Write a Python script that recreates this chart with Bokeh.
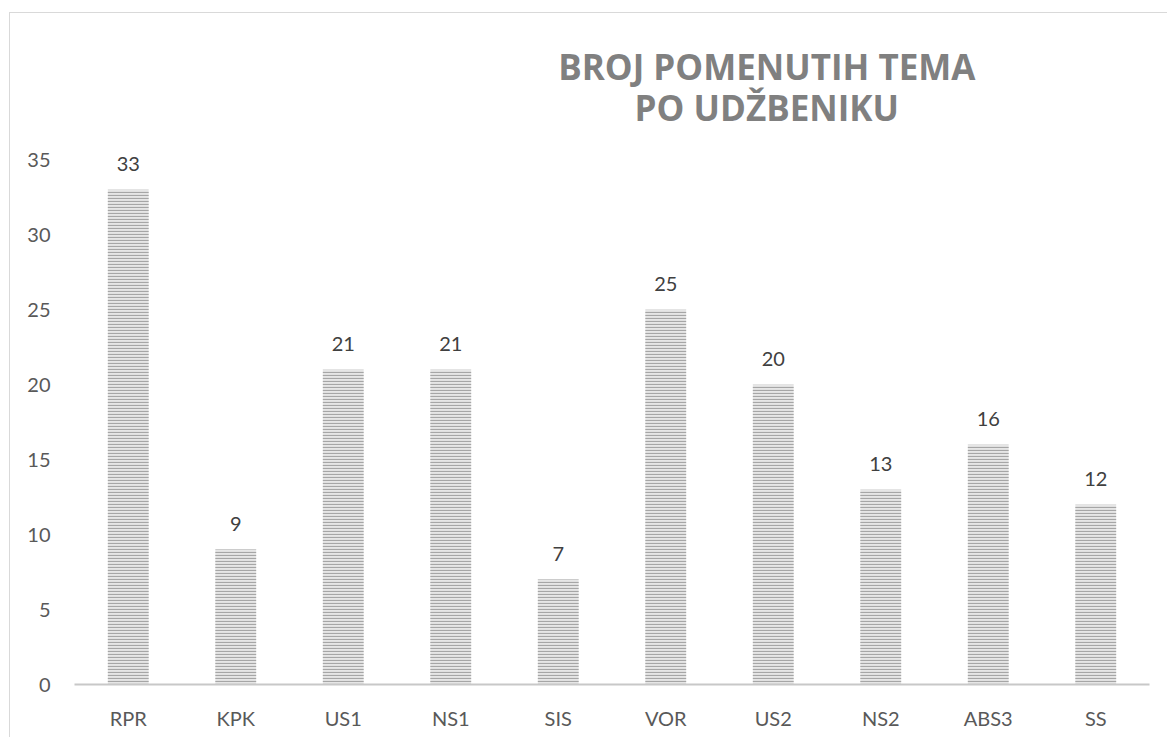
from bokeh.plotting import figure
from bokeh.models import ColumnDataSource, LabelSet, Label, FactorRange, Range1d, FixedTicker
from bokeh.core.properties import value
from bokeh.embed import file_html
from bokeh.resources import INLINE

categories = ["RPR", "KPK", "US1", "NS1", "SIS", "VOR", "US2", "NS2", "ABS3", "SS"]
values = [33, 9, 21, 21, 7, 25, 20, 13, 16, 12]
y_ticks = [0, 5, 10, 15, 20, 25, 30, 35]
title_line1 = "BROJ POMENUTIH TEMA"
title_line2 = "PO UDŽBENIKU"

src = ColumnDataSource(dict(cat=categories, val=values, lab=[str(v) for v in values]))

p = figure(x_range=FactorRange(*categories), y_range=Range1d(0, 44.1),
           width=1158, height=725, output_backend="svg", toolbar_location=None,
           min_border_left=64, min_border_right=19, min_border_top=10, min_border_bottom=54)
p.styles = {"border-left": "1px solid #d9d9d9", "border-top": "1px solid #d9d9d9",
            "margin-left": "9px", "margin-top": "12px"}
p.outline_line_color = None
p.xgrid.grid_line_color = None
p.ygrid.grid_line_color = None
p.x_range.range_padding = 0

p.vbar(x="cat", top="val", width=0.38, source=src, fill_color="#e6e6e6",
       hatch_pattern="horizontal_line", hatch_color="#a6a6a6", hatch_scale=3,
       hatch_weight=1.2, line_color=None)

labels = LabelSet(x="cat", y="val", text="lab", source=src, text_align="center",
                  text_baseline="middle", y_offset=26, text_font=value("Lato"),
                  text_font_size=value("20px"), text_color="#404040")
p.add_layout(labels)

p.yaxis.ticker = FixedTicker(ticks=y_ticks)
p.yaxis.axis_line_color = None
p.yaxis.major_tick_line_color = None
p.yaxis.minor_tick_line_color = None
p.yaxis.major_label_text_font = "Lato"
p.yaxis.major_label_text_font_size = "20px"
p.yaxis.major_label_text_color = "#595959"
p.yaxis.major_label_standoff = 18

p.xaxis.axis_line_color = "#c8c8c8"
p.xaxis.axis_line_width = 2
p.xaxis.major_tick_line_color = None
p.xaxis.minor_tick_line_color = None
p.xaxis.major_label_text_font = "Lato"
p.xaxis.major_label_text_font_size = "20px"
p.xaxis.major_label_text_color = "#595959"
p.xaxis.major_label_standoff = 15

for txt, yy in [(title_line1, 41.26), (title_line2, 38.52)]:
    p.add_layout(Label(x=6.44, y=yy, text=txt, text_align="center", text_baseline="middle",
                       text_font="Open Sans", text_font_style="bold", text_font_size="35px",
                       text_color="#808080"))

open("out.html", "w").write(file_html(p, INLINE))
